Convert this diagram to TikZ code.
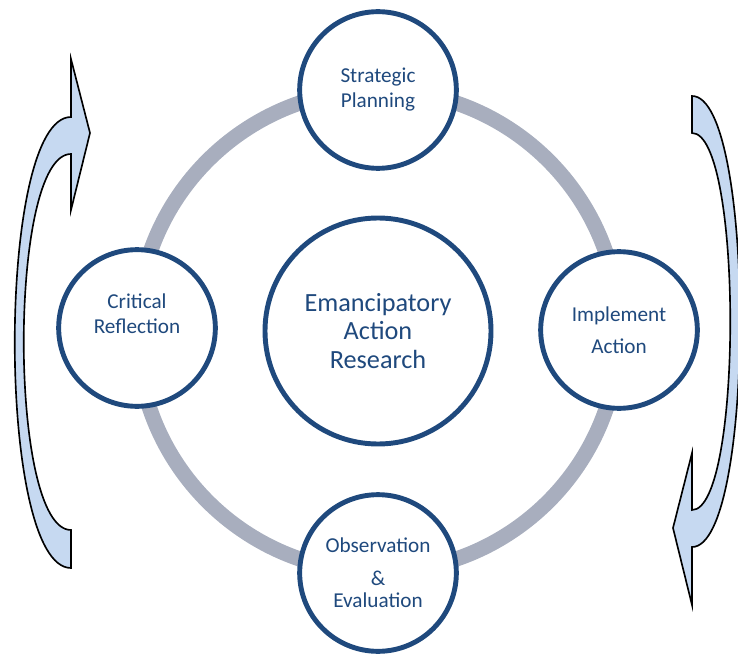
\documentclass[tikz,border=0pt]{standalone}
\usepackage{fontspec}
\setmainfont{Carlito}
\definecolor{cycleblue}{RGB}{31,73,125}
\definecolor{ringgray}{RGB}{168,174,190}
\definecolor{arrowfill}{RGB}{198,217,241}

\begin{document}
\begin{tikzpicture}[x=0.03cm, y=-0.03cm,
    phase/.style={circle, draw=cycleblue, line width=4.2pt, fill=white, text=cycleblue,
      align=center, inner sep=0pt, minimum size=4.7cm,
      font=\fontsize{18.1pt}{21.3pt}\selectfont},
    hub/.style={phase, minimum size=6.78cm, font=\fontsize{22.4pt}{24.3pt}\selectfont},
    loop/.style={draw=black, line width=1.4pt, fill=arrowfill, line join=miter}]
    \useasboundingbox (0,0) rectangle (738,655);
    \node[hub] (ph0) at (378,331) {Emancipatory\\Action\\Research};
    \draw[ringgray, line width=13pt] (ph0.center) circle[radius=241];
    \node[phase] (ph1) at (378,90) {Strategic\\Planning};
    \node[phase] (ph2) at (619,330) {Implement\\[6pt]Action};
    \node[phase] (ph3) at (378,573) {Observation\\[6.8pt]\&\\[-2.6pt]Evaluation};
    \node[phase] (ph4) at (137,328) {Critical\\Reflection\\[2.7pt]\mbox{}};
    \draw[loop] (71,568) .. controls (-4,568) and (-4,117) .. (71,117)
      -- (71,59) -- (90,133) -- (71,210) -- (71,154)
      .. controls (8,154) and (8,530) .. (71,530) -- cycle;
    \draw[loop] (692,96) .. controls (756,96) and (756,547) .. (692,547)
      -- (692,605) -- (673,528) -- (692,453) -- (692,510)
      .. controls (743,510) and (743,133) .. (692,133) -- cycle;
  \end{tikzpicture}
\end{document}
